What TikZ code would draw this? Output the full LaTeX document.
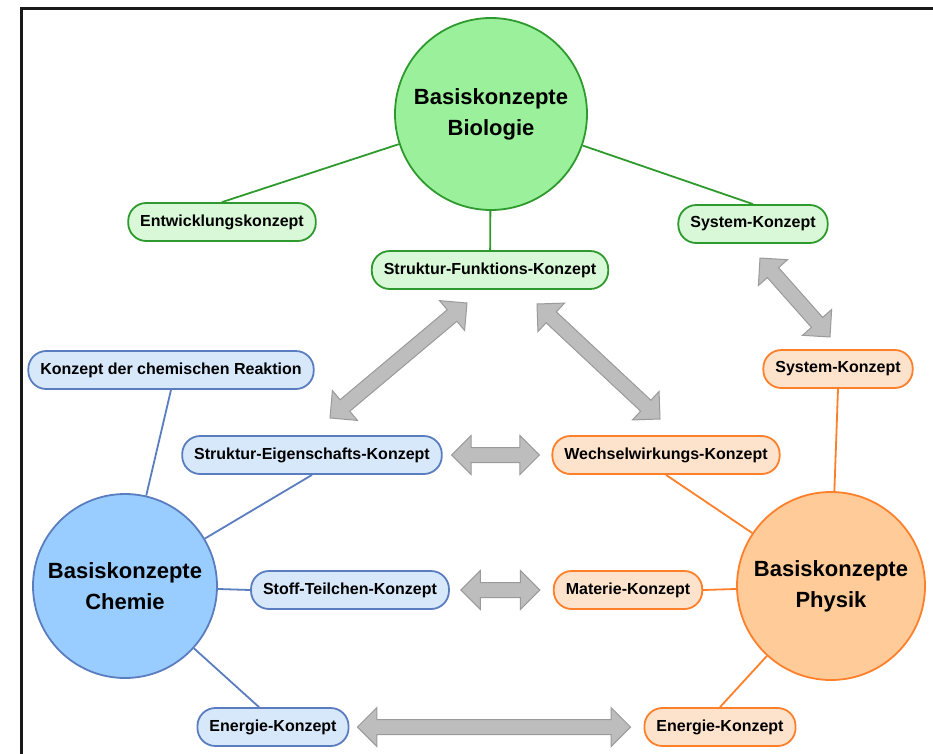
\documentclass[tikz,border=0pt]{standalone}
\usepackage{fontspec}
\setmainfont{Liberation Sans}
\usetikzlibrary{arrows,shapes.arrows,calc}

\definecolor{bioLine}{HTML}{2E9A2E}
\definecolor{bioFill}{HTML}{9BF09B}
\definecolor{bioLight}{HTML}{D8F8D8}
\definecolor{chemLine}{HTML}{5A7DC0}
\definecolor{chemFill}{HTML}{9ACDFF}
\definecolor{chemLight}{HTML}{D7E8FB}
\definecolor{physLine}{HTML}{FF7F2A}
\definecolor{physFill}{HTML}{FFCC99}
\definecolor{physLight}{HTML}{FEE3CC}
\definecolor{arrowFill}{HTML}{BDBDBD}
\definecolor{arrowDraw}{HTML}{9A9A9A}

\begin{document}
\begin{tikzpicture}[x=1pt, y=-1pt, >=latex]
  \tikzstyle{hub} = [circle, line width=1.8pt, inner sep=0pt, align=center, font={\fontsize{22}{31}\selectfont\bfseries}]
  \tikzstyle{concept} = [rectangle, rounded corners=18pt, line width=1.8pt, minimum height=38pt, inner xsep=12pt, font={\fontsize{16}{19}\selectfont\bfseries}]
  \tikzstyle{bioBox} = [concept, draw=bioLine, fill=bioLight]
  \tikzstyle{chemBox} = [concept, draw=chemLine, fill=chemLight]
  \tikzstyle{physBox} = [concept, draw=physLine, fill=physLight]

  \tikzstyle{bioLink} = [bioLine, line width=1.8pt];
  \tikzstyle{chemLink} = [chemLine, line width=1.8pt];
  \tikzstyle{physLink} = [physLine, line width=1.8pt];
  \tikzstyle{fatArrow} = [double arrow, draw=arrowDraw, fill=arrowFill, line width=1pt, inner xsep=0pt, inner ysep=7pt, double arrow head extend=12pt];

  \useasboundingbox (0,0) rectangle (933,753);
  \draw[line width=3pt, black!90] (21,760) -- (21,8) -- (940,8);

  % the three hubs
  \node[hub, draw=bioLine, fill=bioFill, minimum size=192pt]   (Bio)  at (491,114) {Basiskonzepte\\Biologie};
  \node[hub, draw=chemLine, fill=chemFill, minimum size=184pt] (Chem) at (125,586) {Basiskonzepte\\Chemie};
  \node[hub, draw=physLine, fill=physFill, minimum size=188pt] (Phys) at (831,586) {Basiskonzepte\\Physik};

  % Biologie
  \node[bioBox] (EW) at (222,222) {Entwicklungskonzept};
  \node[bioBox] (SB) at (753,224) {System-Konzept};
  \node[bioBox] (SF) at (490,270) {Struktur-Funktions-Konzept};

  % Chemie
  \node[chemBox] (KR) at (171,370) {Konzept der chemischen Reaktion};
  \node[chemBox] (SE) at (312,455) {Struktur-Eigenschafts-Konzept};
  \node[chemBox] (ST) at (350,590) {Stoff-Teilchen-Konzept};
  \node[chemBox] (EC) at (273,727) {Energie-Konzept};

  % Physik
  \node[physBox] (SP) at (838,369) {System-Konzept};
  \node[physBox] (WW) at (666,455) {Wechselwirkungs-Konzept};
  \node[physBox] (MK) at (628,590) {Materie-Konzept};
  \node[physBox] (EP) at (720,727) {Energie-Konzept};

  \draw[bioLink] (Bio) -- (EW.north);
  \draw[bioLink] (Bio) -- (SB.north);
  \draw[bioLink] (Bio) -- (SF);

  \draw[chemLink] (Chem) -- (KR.south);
  \draw[chemLink] (Chem) -- (SE.south);
  \draw[chemLink] (Chem) -- (ST.west);
  \draw[chemLink] (Chem) -- ([xshift=-14pt]EC.north);

  \draw[physLink] (Phys) -- (SP.south);
  \draw[physLink] (Phys) -- (WW.south);
  \draw[physLink] (Phys) -- (MK.east);
  \draw[physLink] (Phys) -- (EP.north);

  % ends of the grey arrows
  \coordinate (sfL) at (467,303);
  \coordinate (seT) at (330,418);
  \coordinate (sfR) at (537,304);
  \coordinate (wwT) at (660,419);
  \coordinate (seR) at ($(SE.east)+(9,0)$);
  \coordinate (wwL) at ($(WW.west)+(-12,0)$);
  \coordinate (stR) at ($(ST.east)+(11,0)$);
  \coordinate (mkL) at ($(MK.west)+(-13,0)$);
  \coordinate (ecR) at ($(EC.east)+(8,0)$);
  \coordinate (epL) at ($(EP.west)+(-13,0)$);
  \coordinate (sbB) at (760,258);
  \coordinate (spT) at (830,337);

  \foreach \a/\b in {sfL/seT, sfR/wwT, seR/wwL, stR/mkL, ecR/epL, sbB/spT}
    \path let \p1 = ($(\b)-(\a)$), \n1 = {veclen(\x1,\y1)} in
      (\a) -- (\b) node[midway, sloped, fatArrow, minimum height=\n1] {};
\end{tikzpicture}
\end{document}
